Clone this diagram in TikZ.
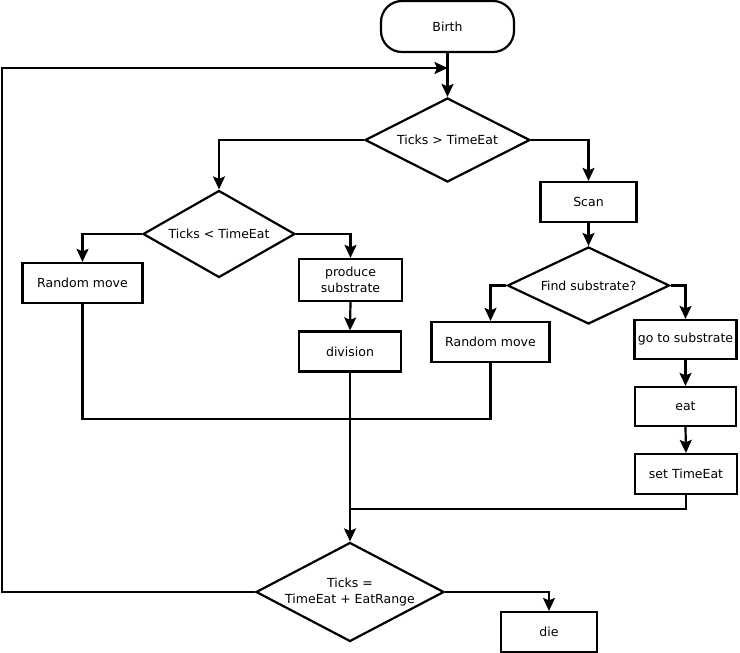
\documentclass[tikz,border=0pt]{standalone}
\usepackage{fontspec}
\setmainfont{DejaVu Sans}
\usetikzlibrary{shapes.geometric,arrows.meta}
\tikzset{
  base/.style={draw, line width=2.2pt, inner sep=0pt, align=center,
    font=\fontsize{12.5}{15.5}\selectfont},
  box/.style={base, rectangle},
  dec/.style={base, diamond},
  term/.style={base, rectangle, rounded corners=21pt},
  wire/.style={line width=2.2pt},
  arr/.style={wire, -{Stealth[length=13pt,width=12pt,inset=2.5pt]}},
}
\begin{document}
\begin{tikzpicture}[x=1pt,y=-1pt]
\useasboundingbox (0,0) rectangle (740,653);
\node[term, minimum width=133pt, minimum height=51pt] (birth) at (447.5,26.5) {Birth};
\node[dec, minimum width=165pt, minimum height=84pt, aspect=1.96] (d1) at (447.5,140) {Ticks > TimeEat};
\node[dec, minimum width=152pt, minimum height=87pt, aspect=1.75] (d2) at (219,234) {Ticks < TimeEat};
\node[box, minimum width=96pt, minimum height=40pt] (scan) at (588.5,202) {Scan};
\node[box, minimum width=120pt, minimum height=40pt] (rm1) at (82.5,283) {Random move};
\node[box, minimum width=103pt, minimum height=42pt] (prod) at (350.5,280) {produce\\substrate};
\node[box, minimum width=102pt, minimum height=40pt] (div) at (350,351.5) {division};
\node[dec, minimum width=162pt, minimum height=77pt, aspect=2.1] (d3) at (588.5,285.5) {Find substrate?};
\node[box, minimum width=118pt, minimum height=40pt] (rm2) at (490.5,342) {Random move};
\node[box, minimum width=102pt, minimum height=39pt] (goto) at (685.5,339.5) {go to substrate};
\node[box, minimum width=101pt, minimum height=39pt] (eat) at (685.5,406.5) {eat};
\node[box, minimum width=102pt, minimum height=40pt] (set) at (686,474) {set TimeEat};
\node[dec, minimum width=188pt, minimum height=99pt, aspect=1.9] (d4) at (350,592) {Ticks =\\TimeEat + EatRange};
\node[box, minimum width=96pt, minimum height=40pt] (die) at (549,632) {die};
\coordinate (j1) at (0,419);
\coordinate (j2) at (0,509);
\coordinate (c1) at (2,68);
\draw[arr] (birth.south) -- (d1.north);
\draw[arr] (d1.west) -| (d2.north);
\draw[arr] (d1.east) -| (scan.north);
\draw[arr] (d2.west) -| (rm1.north);
\draw[arr] (d2.east) -| (prod.north);
\draw[arr] (prod.south) -- (div.north);
\draw[arr] (scan.south) -- (d3.north);
\draw[arr] (d3.west) -| (rm2.north);
\draw[arr] (d3.east) -| (goto.north);
\draw[arr] (goto.south) -- (eat.north);
\draw[arr] (eat.south) -- (set.north);
\draw[wire] (rm1.south) |- (rm2.south |- j1) -- (rm2.south);
\draw[arr] (div.south) -- (d4.north);
\draw[wire] (set.south) |- (div.south |- j2);
\draw[arr] (d4.east) -| (die.north);
\draw[arr] (d4.west) -| (c1) -- (birth.south |- c1);
\end{tikzpicture}
\end{document}
